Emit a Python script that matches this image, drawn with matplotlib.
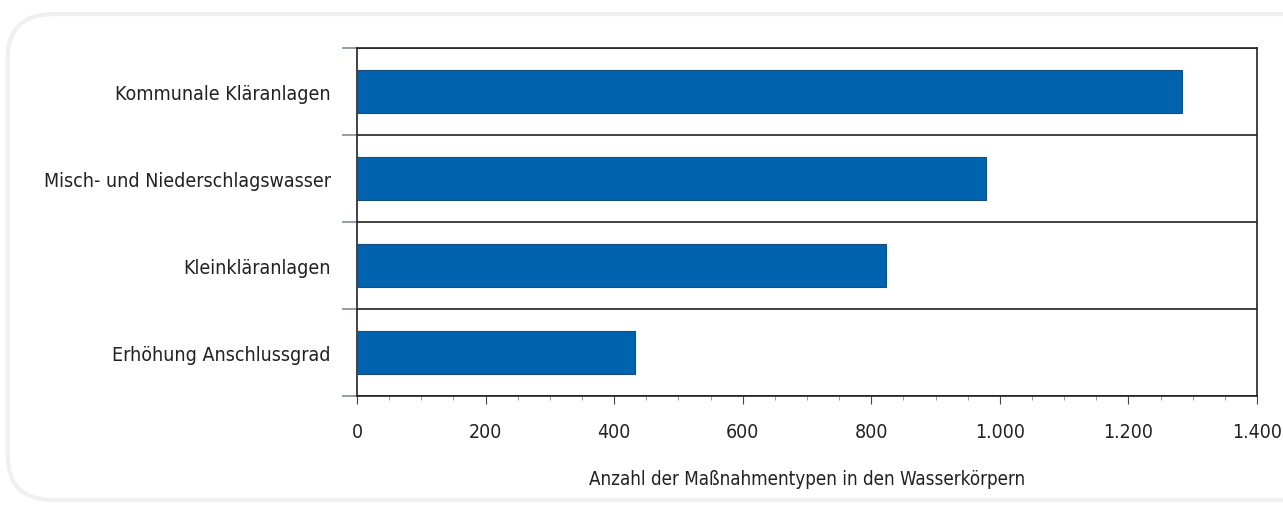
import matplotlib.pyplot as plt
from matplotlib.patches import FancyBboxPatch
from matplotlib.ticker import MultipleLocator, FuncFormatter

categories = ["Kommunale Kläranlagen", "Misch- und Niederschlagswasser",
              "Kleinkläranlagen", "Erhöhung Anschlussgrad"]
values = [1283, 978, 823, 432]
x_label = "Anzahl der Maßnahmentypen in den Wasserkörpern"

plt.rcParams["font.family"] = ["DejaVu Sans"]
plt.rcParams["font.stretch"] = "condensed"

fig = plt.figure(figsize=(12.83, 5.06), dpi=100)
frame = FancyBboxPatch((0.006, 0.01), 1.05, 0.96, boxstyle="round,pad=0,rounding_size=0.035",
                       transform=fig.transFigure, facecolor="white", edgecolor="#f0f0f0",
                       linewidth=3, mutation_aspect=2.5, zorder=-10)
fig.patches.append(frame)

ax = fig.add_axes([0.2783, 0.2154, 0.7014, 0.6878])
ax.set_zorder(5)
pos = list(range(len(categories)))[::-1]
ax.barh(pos, values, height=0.5, color="#0063b0", edgecolor="#1b4b78", linewidth=0.8, zorder=3)

ax.set_xlim(0, 1400)
ax.set_ylim(-0.5, len(categories) - 0.5)
ax.xaxis.set_major_locator(MultipleLocator(200))
ax.xaxis.set_minor_locator(MultipleLocator(50))
ax.xaxis.set_major_formatter(FuncFormatter(lambda v, _: f"{int(v):,}".replace(",", ".")))
ax.set_yticks(pos)
ax.set_yticklabels(categories)
ax.set_yticks([p + 0.5 for p in range(len(categories))] + [-0.5], minor=True)
ax.tick_params(axis="y", which="major", length=0, pad=19, labelsize=14, labelcolor="#222222")
ax.tick_params(axis="y", which="minor", length=11, color="#7f8c99", width=1.2)
ax.tick_params(axis="x", which="major", length=6, color="#444444", labelsize=14,
               labelcolor="#222222", pad=13)
ax.tick_params(axis="x", which="minor", length=3, color="#7f8c99")
ax.grid(axis="y", which="minor", color="#222222", linewidth=1.2, zorder=1)
for s in ax.spines.values():
    s.set_color("#222222")
    s.set_linewidth(1.2)
ax.set_xlabel(x_label, fontsize=13.5, color="#222222", labelpad=20)

fig.savefig("out.png", dpi=100)
